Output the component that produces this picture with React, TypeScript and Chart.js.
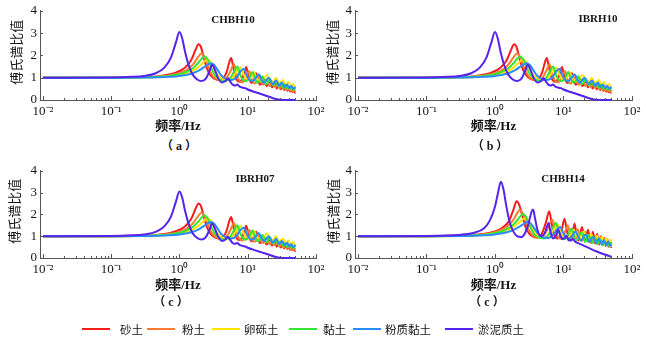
import React, { useEffect, useRef } from "react";
import { Chart, registerables } from "chart.js";

Chart.register(...registerables);

type Pt = [number, number];

const SERIES_NAMES = ["砂土", "粉土", "卵砾土", "黏土", "粉质黏土", "淤泥质土"];
const SERIES_COLORS = ["#f41c1c", "#ff7a30", "#ffe600", "#33e633", "#2a8cff", "#5522ee"];
const X_TICKS = [0.01, 0.1, 1, 10, 100];
const X_TICK_LABELS = ["10⁻²", "10⁻¹", "10⁰", "10¹", "10²"];
const Y_TICKS = [0, 1, 2, 3, 4];
const STATIONS = ["CHBH10", "IBRH10", "IBRH07", "CHBH14"];
const CAPTIONS = ["（ a ）", "（ b ）", "（ c ）", "（ c ）"];
const X_TITLE = "频率/Hz";
const Y_TITLE = "\u2002傅氏谱比值";

// ---- set (a), (b), (c) ----
const sandA: Pt[] = [[0.01,1.0],[0.1,1.0],[0.2,1.01],[0.3,1.03],[0.5,1.07],[0.7,1.14],[0.9,1.24],[1.1,1.36],[1.3,1.55],[1.5,1.82],[1.7,2.22],[1.9,2.5],[2.05,2.4],[2.25,1.95],[2.5,1.45],[2.8,1.15],[3.2,0.97],[3.8,0.9],[4.4,0.98],[4.9,1.25],[5.35,1.68],[5.7,1.88],[6.05,1.58],[6.5,1.1],[7.0,0.88],[7.6,0.82],[8.3,0.95],[9.0,1.28],[9.5,1.48],[10.0,1.2],[10.6,0.92],[11.4,0.76],[12.4,0.9],[13.3,1.2],[14.2,0.86],[15.2,0.68],[16.2,0.8],[17.1,1.0],[18.0,0.74],[19.0,0.62],[20.9,0.88],[22.8,0.57],[24.7,0.78],[26.6,0.52],[28.5,0.7],[30.4,0.48],[32.3,0.63],[34.2,0.44],[36.1,0.57],[38.0,0.41],[39.9,0.52],[41.8,0.38],[43.7,0.47],[45.6,0.35],[47.5,0.42],[49.4,0.32],[50,0.33]];
const siltA: Pt[] = [[0.01,1.0],[0.1,1.0],[0.3,1.02],[0.5,1.05],[0.7,1.1],[1.0,1.2],[1.3,1.36],[1.6,1.62],[1.85,1.9],[2.1,2.08],[2.3,1.95],[2.55,1.6],[2.85,1.25],[3.2,1.02],[3.7,0.9],[4.2,0.87],[4.9,0.98],[5.6,1.3],[6.3,1.6],[6.8,1.22],[7.4,0.9],[8.4,0.8],[9.4,0.98],[10.5,1.3],[11.4,0.95],[12.6,0.74],[13.7,0.85],[14.7,1.08],[15.7,0.8],[16.8,0.68],[18.9,0.93],[21.0,0.62],[23.1,0.83],[25.2,0.57],[27.3,0.74],[29.4,0.52],[31.5,0.66],[33.6,0.48],[35.7,0.6],[37.8,0.44],[39.9,0.54],[42.0,0.41],[44.1,0.49],[46.2,0.38],[48.3,0.44],[50,0.37]];
const gravelA: Pt[] = [[0.01,1.0],[0.1,1.0],[0.3,1.01],[0.5,1.03],[0.7,1.06],[1.0,1.12],[1.4,1.24],[1.8,1.42],[2.1,1.6],[2.4,1.76],[2.6,1.82],[2.85,1.72],[3.2,1.42],[3.6,1.13],[4.2,0.95],[5.2,0.9],[6.2,1.05],[7.1,1.35],[7.8,1.47],[8.6,1.18],[9.5,0.95],[10.4,0.88],[11.4,1.05],[12.3,1.25],[13.3,1.02],[15.3,0.85],[17.5,1.0],[19.2,1.12],[21.0,0.88],[23.3,0.8],[26.0,1.0],[28.8,0.74],[32.8,0.9],[35.8,0.68],[39.7,0.81],[42.5,0.62],[46.3,0.72],[49.0,0.6],[50,0.62]];
const clayA: Pt[] = [[0.01,1.0],[0.1,1.0],[0.3,1.02],[0.5,1.04],[0.7,1.08],[1.0,1.16],[1.3,1.28],[1.6,1.45],[1.9,1.68],[2.15,1.88],[2.35,1.95],[2.6,1.8],[2.9,1.45],[3.3,1.12],[3.8,0.93],[4.7,0.85],[5.6,1.0],[6.4,1.32],[7.05,1.5],[7.7,1.15],[8.5,0.9],[9.4,0.84],[10.6,1.0],[11.75,1.26],[12.9,0.92],[14.1,0.77],[15.3,0.88],[16.45,1.07],[17.6,0.82],[18.8,0.71],[21.15,0.94],[23.5,0.65],[25.85,0.84],[28.2,0.6],[30.55,0.76],[32.9,0.55],[35.25,0.68],[37.6,0.51],[39.95,0.61],[42.3,0.48],[44.65,0.56],[47.0,0.45],[49.35,0.51],[50,0.49]];
const siltyClayA: Pt[] = [[0.01,1.0],[0.1,1.0],[0.3,1.01],[0.5,1.02],[0.7,1.04],[1.0,1.08],[1.5,1.18],[2.0,1.35],[2.4,1.52],[2.7,1.62],[2.9,1.65],[3.2,1.58],[3.6,1.36],[4.1,1.1],[4.8,0.95],[5.8,0.9],[6.9,1.02],[7.9,1.3],[8.7,1.4],[9.5,1.15],[10.5,0.92],[11.6,0.84],[13.0,0.97],[14.5,1.15],[16.0,0.9],[17.4,0.77],[20.3,1.0],[23.2,0.71],[26.1,0.88],[29.0,0.64],[31.9,0.78],[34.8,0.58],[37.7,0.7],[40.6,0.54],[43.5,0.63],[46.4,0.5],[49.3,0.57],[50,0.55]];
const mudA: Pt[] = [[0.01,1.0],[0.1,1.01],[0.2,1.04],[0.3,1.08],[0.45,1.2],[0.6,1.45],[0.75,1.9],[0.88,2.55],[1.0,3.05],[1.1,2.75],[1.2,2.2],[1.35,1.6],[1.55,1.15],[1.8,0.93],[2.1,0.85],[2.45,0.97],[2.75,1.3],[3.0,1.58],[3.3,1.35],[3.7,0.97],[4.2,0.78],[4.7,0.85],[5.1,0.97],[5.5,0.84],[6.0,0.69],[6.5,0.65],[7.0,0.69],[7.6,0.6],[8.5,0.55],[9.2,0.53],[10,0.47],[13,0.35],[16,0.26],[20,0.16],[25,0.06],[30,0.01],[40,0.0],[50,0.0]];

// ---- set (d) CHBH14 ----
const sandD: Pt[] = [[0.01,1.0],[0.1,1.0],[0.3,1.03],[0.5,1.06],[0.7,1.11],[1.0,1.22],[1.3,1.4],[1.6,1.7],[1.85,2.2],[2.07,2.6],[2.25,2.45],[2.5,1.95],[2.8,1.42],[3.2,1.1],[3.6,0.98],[4.1,0.94],[4.8,1.1],[5.5,1.6],[6.2,2.15],[6.7,1.6],[7.3,1.05],[8.3,0.9],[9.3,1.2],[10.35,1.8],[11.2,1.25],[12.4,0.86],[13.5,1.05],[14.5,1.58],[15.5,1.05],[16.6,0.8],[18.6,1.42],[20.7,0.75],[22.8,1.3],[24.8,0.7],[26.9,1.2],[29.0,0.66],[31.0,1.1],[33.1,0.62],[35.2,1.0],[37.3,0.58],[39.3,0.92],[41.4,0.55],[43.5,0.85],[45.5,0.52],[47.6,0.8],[49.6,0.5],[50,0.52]];
const siltD: Pt[] = [[0.01,1.0],[0.1,1.0],[0.3,1.02],[0.5,1.05],[0.7,1.09],[1.0,1.18],[1.3,1.32],[1.6,1.52],[1.9,1.8],[2.1,2.05],[2.3,2.2],[2.5,2.08],[2.8,1.7],[3.1,1.3],[3.6,1.02],[4.6,0.93],[5.6,1.2],[6.9,1.75],[7.6,1.3],[8.3,0.98],[9.2,0.88],[10.3,1.1],[11.5,1.5],[12.5,1.08],[13.8,0.84],[16.1,1.32],[18.4,0.78],[20.7,1.2],[23.0,0.73],[25.3,1.1],[27.6,0.69],[29.9,1.02],[32.2,0.65],[34.5,0.95],[36.8,0.61],[39.1,0.88],[41.4,0.58],[43.7,0.82],[46.0,0.55],[48.3,0.78],[50,0.58]];
const gravelD: Pt[] = [[0.01,1.0],[0.1,1.0],[0.3,1.01],[0.5,1.03],[0.7,1.06],[1.0,1.12],[1.4,1.24],[1.8,1.4],[2.2,1.6],[2.55,1.77],[2.8,1.82],[3.05,1.72],[3.4,1.42],[3.9,1.12],[4.6,0.97],[5.6,0.95],[6.8,1.2],[7.8,1.45],[8.4,1.5],[9.1,1.22],[10.0,1.0],[11.2,0.93],[12.6,1.1],[14.0,1.3],[15.3,1.05],[16.8,0.9],[19.6,1.2],[22.4,0.85],[25.2,1.1],[28.0,0.8],[30.8,1.02],[33.6,0.76],[36.4,0.96],[39.2,0.72],[42.0,0.9],[44.8,0.69],[47.6,0.85],[50,0.72]];
const clayD: Pt[] = [[0.01,1.0],[0.1,1.0],[0.3,1.02],[0.5,1.04],[0.7,1.07],[1.0,1.14],[1.4,1.28],[1.8,1.5],[2.1,1.72],[2.4,1.95],[2.6,2.02],[2.85,1.88],[3.2,1.5],[3.6,1.15],[4.2,0.96],[5.2,0.9],[6.3,1.15],[7.2,1.48],[7.8,1.6],[8.5,1.22],[9.3,0.95],[10.4,0.86],[11.7,1.05],[13.0,1.35],[14.3,0.98],[15.6,0.8],[18.2,1.18],[20.8,0.74],[23.4,1.05],[26.0,0.68],[28.6,0.95],[31.2,0.63],[33.8,0.87],[36.4,0.59],[39.0,0.8],[41.6,0.56],[44.2,0.74],[46.8,0.53],[49.4,0.7],[50,0.62]];
const siltyClayD: Pt[] = [[0.01,1.0],[0.1,1.0],[0.3,1.01],[0.5,1.02],[0.7,1.04],[1.0,1.08],[1.5,1.18],[2.0,1.34],[2.5,1.52],[2.8,1.62],[3.0,1.66],[3.3,1.6],[3.7,1.38],[4.3,1.1],[5.0,0.96],[6.0,0.92],[7.2,1.1],[8.3,1.35],[9.0,1.42],[9.8,1.18],[10.8,0.96],[12.0,0.88],[13.5,1.02],[15.0,1.22],[16.5,0.96],[18.0,0.8],[21.0,1.08],[24.0,0.74],[27.0,0.98],[30.0,0.69],[33.0,0.9],[36.0,0.64],[39.0,0.83],[42.0,0.6],[45.0,0.77],[48.0,0.57],[50,0.62]];
const mudD: Pt[] = [[0.01,1.0],[0.1,1.01],[0.2,1.03],[0.3,1.06],[0.5,1.16],[0.7,1.38],[0.85,1.75],[1.0,2.35],[1.1,2.95],[1.22,3.5],[1.33,3.15],[1.45,2.45],[1.62,1.7],[1.85,1.22],[2.1,1.0],[2.4,0.96],[2.75,1.15],[3.1,1.6],[3.4,2.1],[3.6,2.22],[3.85,1.8],[4.2,1.25],[4.7,1.0],[5.3,1.12],[5.75,1.45],[6.05,1.6],[6.45,1.2],[7.0,0.9],[7.7,1.0],[8.4,1.3],[8.9,1.08],[9.6,0.86],[10.4,0.93],[11.0,1.02],[11.8,0.82],[12.8,0.8],[13.8,0.87],[14.8,0.74],[17.0,0.66],[20,0.56],[25,0.42],[30,0.31],[40,0.16],[50,0.06]];

const SET_A: Pt[][] = [sandA, siltA, gravelA, clayA, siltyClayA, mudA];
const SET_D: Pt[][] = [sandD, siltD, gravelD, clayD, siltyClayD, mudD];

const AXIS_COLOR = "#555";
const TEXT_COLOR = "#151515";
const SERIF_CJK = '"Liberation Serif", "Noto Sans CJK SC", serif';
const CJK = '"Noto Sans CJK SC", sans-serif';

interface PanelSpec {
  canvasLeft: number;
  canvasTop: number;
  canvasWidth: number;
  canvasHeight: number;
  area: { left: number; right: number; top: number; bottom: number };
  station: string;
  stationX: number;
  stationY: number;
  yTitlePad: number;
  xTitlePad: number;
  series: Pt[][];
}

const PANELS: PanelSpec[] = [
  { canvasLeft: 0, canvasTop: 0, canvasWidth: 332, canvasHeight: 136, area: { left: 40, right: 316, top: 8, bottom: 100 }, station: STATIONS[0], stationX: 233, stationY: 20, yTitlePad: 8, xTitlePad: 1.2, series: SET_A },
  { canvasLeft: 318, canvasTop: 0, canvasWidth: 328, canvasHeight: 136, area: { left: 355, right: 632, top: 8, bottom: 100 }, station: STATIONS[1], stationX: 598, stationY: 19, yTitlePad: 6, xTitlePad: 1.2, series: SET_A },
  { canvasLeft: 0, canvasTop: 160, canvasWidth: 332, canvasHeight: 136, area: { left: 40, right: 316, top: 168, bottom: 258 }, station: STATIONS[2], stationX: 255, stationY: 179, yTitlePad: 6, xTitlePad: 2.2, series: SET_A },
  { canvasLeft: 318, canvasTop: 160, canvasWidth: 328, canvasHeight: 136, area: { left: 355, right: 632, top: 168, bottom: 258 }, station: STATIONS[3], stationX: 563, stationY: 179, yTitlePad: 7, xTitlePad: 2.2, series: SET_D },
];

const CAPTION_POS = [
  { x: 179, y: 146 },
  { x: 490, y: 146 },
  { x: 171, y: 302 },
  { x: 487, y: 302 },
];

const LEGEND_POS = [
  { line: 82, text: 120 },
  { line: 147, text: 182 },
  { line: 212, text: 244 },
  { line: 289, text: 323 },
  { line: 353, text: 385 },
  { line: 445, text: 478 },
];

function Panel({ spec }: { spec: PanelSpec }) {
  const ref = useRef<HTMLCanvasElement>(null);
  useEffect(() => {
    const canvas = ref.current;
    if (!canvas) return;
    const a = spec.area;
    const decadePx = (a.right - a.left) / 4;
    const xMin = Math.pow(10, -2 - 3 / decadePx);
    const xLeftPad = spec.canvasLeft;

    const tickPlugin = {
      id: "inwardTicks",
      afterDraw(chart: any) {
        const { ctx, chartArea, scales } = chart;
        const xs = scales.x;
        const ys = scales.y;
        ctx.save();
        ctx.strokeStyle = AXIS_COLOR;
        ctx.lineWidth = 1;
        ctx.beginPath();
        for (let e = -3; e <= 2; e++) {
          for (let k = 1; k <= 9; k++) {
            const v = k * Math.pow(10, e);
            if (v < xs.min * 0.999 || v > xs.max * 1.001) continue;
            const px = Math.round(xs.getPixelForValue(v)) + 0.5;
            const len = k === 1 ? 4 : 2;
            ctx.moveTo(px, chartArea.bottom);
            ctx.lineTo(px, chartArea.bottom - len);
          }
        }
        for (const t of Y_TICKS) {
          const py = Math.round(ys.getPixelForValue(t)) + 0.5;
          ctx.moveTo(chartArea.left, py);
          ctx.lineTo(chartArea.left + 3, py);
        }
        ctx.stroke();
        ctx.font = 'bold 11px "Liberation Serif", serif';
        ctx.fillStyle = TEXT_COLOR;
        ctx.textAlign = "center";
        ctx.textBaseline = "middle";
        ctx.fillText(spec.station, spec.stationX - spec.canvasLeft, spec.stationY - spec.canvasTop);
        ctx.restore();
      },
    };

    const chart = new Chart(canvas, {
      type: "line",
      data: {
        datasets: spec.series.map((pts, i) => ({
          label: SERIES_NAMES[i],
          data: pts.map(([x, y]) => ({ x, y })),
          borderColor: SERIES_COLORS[i],
          backgroundColor: SERIES_COLORS[i],
          borderWidth: 2,
          pointRadius: 0,
          cubicInterpolationMode: "monotone" as const,
          fill: false,
          clip: 3,
          order: SERIES_NAMES.length - i,
        })),
      },
      options: {
        responsive: false,
        animation: false,
        devicePixelRatio: 1,
        events: [],
        layout: {
          padding: {
            left: 0,
            top: a.top - spec.canvasTop,
            right: spec.canvasLeft + spec.canvasWidth - a.right,
            bottom: 0,
          },
        },
        plugins: {
          legend: { display: false },
          tooltip: { enabled: false },
          title: { display: false },
        },
        scales: {
          x: {
            type: "logarithmic",
            min: xMin,
            max: 100,
            afterBuildTicks: (s: any) => {
              s.ticks = X_TICKS.map((v) => ({ value: v }));
            },
            afterFit: (s: any) => {
              s.height = spec.canvasTop + spec.canvasHeight - a.bottom;
            },
            ticks: {
              autoSkip: false,
              maxRotation: 0,
              minRotation: 0,
              padding: 4,
              color: TEXT_COLOR,
              font: { family: '"Liberation Serif", serif', size: 13 },
              callback: (v: any) => {
                const idx = X_TICKS.findIndex((t) => Math.abs(Math.log10(t) - Math.log10(Number(v))) < 1e-6);
                return idx >= 0 ? X_TICK_LABELS[idx] : "";
              },
            },
            grid: { drawOnChartArea: false, drawTicks: false },
            border: { display: true, color: AXIS_COLOR, width: 1 },
            title: {
              display: true,
              text: X_TITLE,
              color: TEXT_COLOR,
              font: { family: SERIF_CJK, size: 13, weight: "bold" },
              padding: { top: 0, bottom: spec.xTitlePad },
            },
          },
          y: {
            type: "linear",
            min: 0,
            max: 4,
            afterBuildTicks: (s: any) => {
              s.ticks = Y_TICKS.map((v) => ({ value: v }));
            },
            afterFit: (s: any) => {
              s.width = a.left - xLeftPad;
            },
            ticks: {
              padding: 3,
              color: TEXT_COLOR,
              font: { family: '"Liberation Serif", serif', size: 13 },
              callback: (v: any) => String(v),
            },
            grid: { drawOnChartArea: false, drawTicks: false },
            border: { display: true, color: AXIS_COLOR, width: 1 },
            title: {
              display: true,
              text: Y_TITLE,
              color: TEXT_COLOR,
              font: { family: CJK, size: 13 },
              padding: { top: spec.yTitlePad, bottom: 0 },
            },
          },
        },
      },
      plugins: [tickPlugin],
    } as any);
    return () => chart.destroy();
  }, [spec]);

  return (
    <canvas
      ref={ref}
      width={spec.canvasWidth}
      height={spec.canvasHeight}
      style={{
        position: "absolute",
        left: spec.canvasLeft,
        top: spec.canvasTop,
        width: spec.canvasWidth,
        height: spec.canvasHeight,
      }}
    />
  );
}

export default function App() {
  return (
    <div
      style={{
        position: "absolute",
        left: 0,
        top: 0,
        width: 646,
        height: 346,
        background: "#ffffff",
        overflow: "hidden",
      }}
    >
      {PANELS.map((p, i) => (
        <Panel key={i} spec={p} />
      ))}
      {CAPTIONS.map((c, i) => (
        <div
          key={"cap" + i}
          style={{
            position: "absolute",
            left: CAPTION_POS[i].x - 30,
            top: CAPTION_POS[i].y - 8,
            width: 60,
            height: 16,
            lineHeight: "16px",
            textAlign: "center",
            fontFamily: SERIF_CJK,
            fontSize: 12,
            fontWeight: "bold",
            color: TEXT_COLOR,
            whiteSpace: "pre",
          }}
        >
          {c}
        </div>
      ))}
      {SERIES_NAMES.map((name, i) => (
        <React.Fragment key={"lg" + i}>
          <div
            style={{
              position: "absolute",
              left: LEGEND_POS[i].line,
              top: 328,
              width: 28,
              height: 2,
              background: SERIES_COLORS[i],
            }}
          />
          <div
            style={{
              position: "absolute",
              left: LEGEND_POS[i].text,
              top: 321,
              height: 16,
              lineHeight: "16px",
              fontFamily: CJK,
              fontSize: 11.5,
              color: TEXT_COLOR,
              whiteSpace: "nowrap",
            }}
          >
            {name}
          </div>
        </React.Fragment>
      ))}
    </div>
  );
}
